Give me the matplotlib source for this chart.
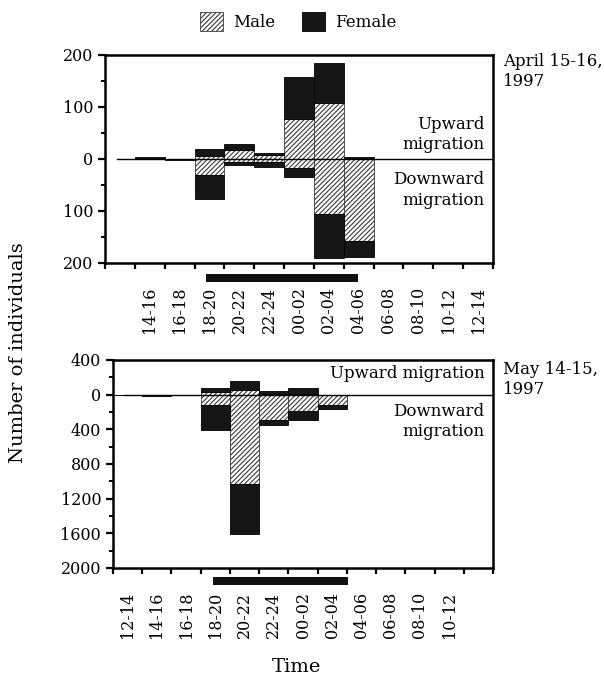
import matplotlib.pyplot as plt
import matplotlib.transforms as mtransforms
import numpy as np
from matplotlib.patches import Patch, Rectangle
from matplotlib.ticker import FuncFormatter, MultipleLocator

plt.rcParams["font.family"] = "DejaVu Serif"
plt.rcParams["hatch.linewidth"] = 0.8

# April 15-16, 1997 (two-hour sampling intervals)
april_labels = ["14-16", "16-18", "18-20", "20-22", "22-24", "00-02",
                "02-04", "04-06", "06-08", "08-10", "10-12", "12-14"]
april_male_up = [0, 0, 6, 18, 8, 77, 107, 0, 0, 0, 0, 0]
april_female_up = [3, 0, 13, 11, 4, 81, 77, 3, 0, 0, 0, 0]
april_male_down = [0, 0, 30, 6, 6, 17, 105, 158, 0, 0, 0, 0]
april_female_down = [0, 1, 47, 5, 10, 18, 85, 30, 0, 0, 0, 0]
april_night = (18.75, 28.95)  # dark period, hours from noon of day 1

# May 14-15, 1997
may_labels = ["12-14", "14-16", "16-18", "18-20", "20-22", "22-24",
              "00-02", "02-04", "04-06", "06-08", "08-10", "10-12"]
may_male_up = [0, 0, 0, 25, 58, 5, 5, 0, 0, 0, 0, 0]
may_female_up = [0, 0, 0, 52, 104, 34, 72, 0, 0, 0, 0, 0]
may_male_down = [0, 0, 0, 124, 1035, 297, 193, 116, 0, 0, 0, 0]
may_female_down = [0, 10, 0, 281, 568, 51, 97, 50, 0, 0, 0, 0]
may_night = (18.85, 28.1)

MALE = dict(facecolor="white", edgecolor="#3a3a3a", hatch="///////", linewidth=0.6)
FEMALE = dict(facecolor="#161616", edgecolor="black", linewidth=0.6)


def start_hours(labels):
    # turn "HH-HH" labels into running hours, rolling over midnight
    hours = []
    for l in labels:
        h = int(l[:2])
        while hours and h <= hours[-1]:
            h += 24
        hours.append(h)
    return np.array(hours)


def draw_panel(ax, labels, mu, fu, md, fd, night, ylim, major, minor, night_y):
    x = start_hours(labels)
    mu, fu, md, fd = (np.array(a, dtype=float) for a in (mu, fu, md, fd))

    ax.bar(x, mu, width=2, align="edge", **MALE)
    ax.bar(x, fu, bottom=mu, width=2, align="edge", **FEMALE)
    ax.bar(x, -md, width=2, align="edge", **MALE)
    ax.bar(x, -fd, bottom=-md, width=2, align="edge", **FEMALE)
    ax.axhline(0, xmin=0.03, color="black", linewidth=1.0, zorder=3)

    ax.set_xlim(12, 38)
    ax.set_ylim(*ylim)
    ax.xaxis.set_major_locator(MultipleLocator(2))
    ax.xaxis.set_major_formatter(FuncFormatter(lambda v, p: ""))
    ax.set_xticks(x + 1, minor=True)
    ax.set_xticklabels(labels, minor=True, rotation=90, va="top", fontsize=11.5)
    ax.tick_params(axis="x", which="major", direction="out", length=4, width=1.6)
    ax.tick_params(axis="x", which="minor", length=0, pad=17)

    ax.yaxis.set_major_locator(MultipleLocator(major))
    ax.yaxis.set_minor_locator(MultipleLocator(minor))
    ax.yaxis.set_major_formatter(FuncFormatter(lambda v, p: f"{abs(v):.0f}"))
    ax.tick_params(axis="y", which="major", direction="out", length=5, width=1.6,
                   labelsize=11.5)
    ax.tick_params(axis="y", which="minor", direction="out", length=3, width=1.4)

    for s in ax.spines.values():
        s.set_linewidth(1.8)

    trans = mtransforms.blended_transform_factory(ax.transData, ax.transAxes)
    ax.add_patch(Rectangle((night[0], night_y), night[1] - night[0], 0.038,
                           transform=trans, clip_on=False,
                           facecolor="#111111", edgecolor="none"))


fig = plt.figure(figsize=(6.05, 6.84), dpi=100)
ax1 = fig.add_axes([0.1736, 0.6155, 0.6413, 0.3041])
ax2 = fig.add_axes([0.1868, 0.1696, 0.6281, 0.3041])

draw_panel(ax1, april_labels, april_male_up, april_female_up, april_male_down,
           april_female_down, april_night, (-200, 200), 100, 50, -0.092)
draw_panel(ax2, may_labels, may_male_up, may_female_up, may_male_down,
           may_female_down, may_night, (-2000, 400), 400, 200, -0.082)

ax1.text(0.977, 0.53, "Upward\nmigration", transform=ax1.transAxes, ha="right",
         va="bottom", fontsize=12, linespacing=1.25)
ax1.text(0.977, 0.44, "Downward\nmigration", transform=ax1.transAxes, ha="right",
         va="top", fontsize=12, linespacing=1.25)
ax2.text(0.977, 0.937, "Upward migration", transform=ax2.transAxes, ha="right",
         va="center", fontsize=12)
ax2.text(0.977, 0.795, "Downward\nmigration", transform=ax2.transAxes, ha="right",
         va="top", fontsize=12, linespacing=1.25)

fig.text(0.831, 0.9225, "April 15-16,\n1997", ha="left", va="top", fontsize=12,
         linespacing=1.25)
fig.text(0.831, 0.472, "May 14-15,\n1997", ha="left", va="top", fontsize=12,
         linespacing=1.25)

fig.text(0.03, 0.485, "Number of individuals", rotation=90, ha="center",
         va="center", fontsize=14)
fig.text(0.49, 0.025, "Time", ha="center", va="center", fontsize=14)

handles = [Patch(**MALE), Patch(**FEMALE)]
fig.legend(handles, ["Male", "Female"], loc="center", bbox_to_anchor=(0.493, 0.969),
           ncol=2, frameon=False, fontsize=12, handlelength=1.4, handleheight=1.4,
           columnspacing=1.6, handletextpad=0.6)

fig.savefig("out.png", dpi=100)
